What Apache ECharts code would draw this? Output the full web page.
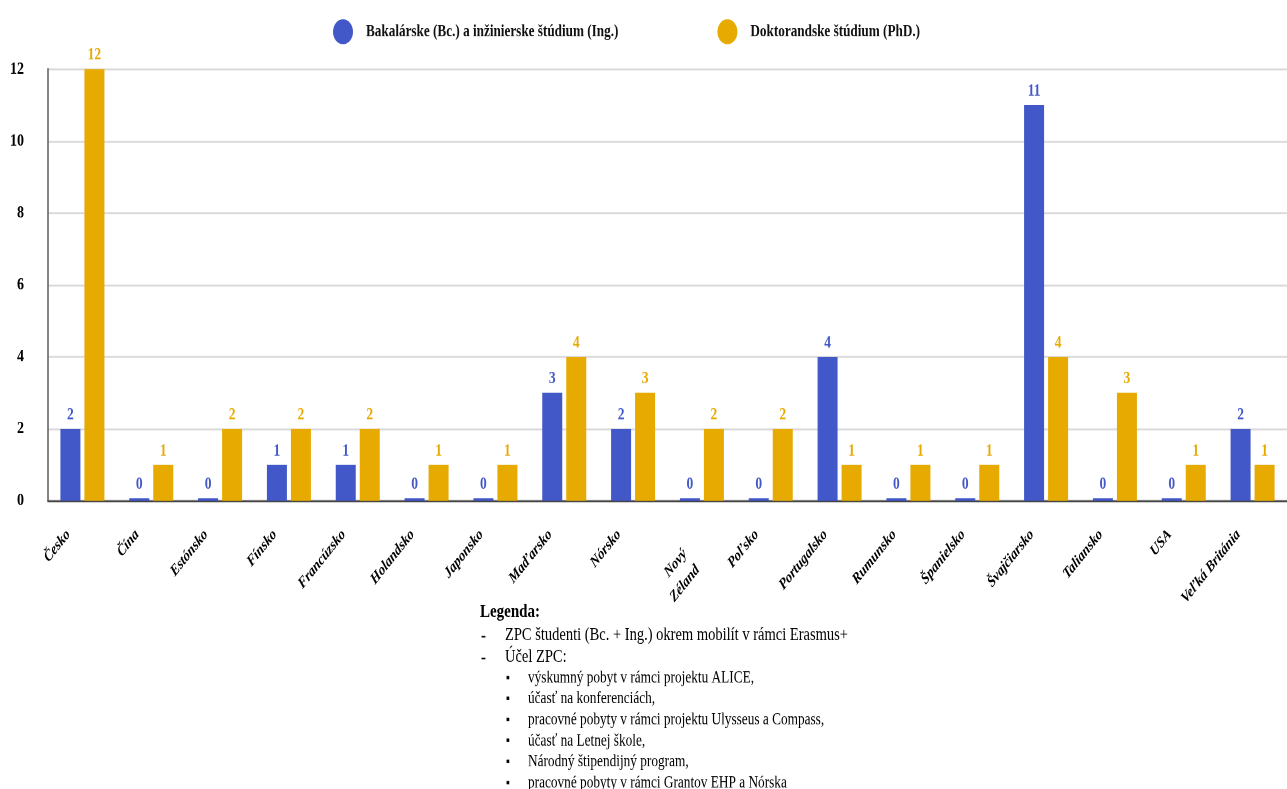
<!DOCTYPE html>
<html><head><meta charset="utf-8">
<script src="https://cdn.jsdelivr.net/npm/echarts@6/dist/echarts.min.js"></script>
<style>
html,body{margin:0;padding:0;background:#fff;overflow:hidden}
#wrap{width:1287px;height:789px;position:relative;overflow:hidden}
#c{width:1287px;height:631.2px;transform:scaleY(1.25);transform-origin:0 0;position:absolute;left:0;top:0}
</style>
</head><body><div id="wrap"><div id="c"></div></div>
<script>
const categories = ['Česko','Čína','Estónsko','Fínsko','Francúzsko','Holandsko','Japonsko','Maďarsko','Nórsko','Nový\nZéland','Poľsko','Portugalsko','Rumunsko','Španielsko','Švajčiarsko','Taliansko','USA','Veľká Británia'];
const bachelorValues = [2,0,0,1,1,0,0,3,2,0,0,4,0,0,11,0,0,2];
const phdValues = [12,1,2,2,2,1,1,4,3,2,2,1,1,1,4,3,1,1];
const seriesNames = ['Bakalárske (Bc.) a inžinierske štúdium (Ing.)','Doktorandske štúdium (PhD.)'];
const yMin = 0, yMax = 12, yInterval = 2;
const noteTitle = 'Legenda:';
const noteItems = ['ZPC študenti (Bc. + Ing.) okrem mobilít v rámci Erasmus+','Účel ZPC:'];
const purposeItems = ['výskumný pobyt v rámci projektu ALICE,','účasť na konferenciách,','pracovné pobyty v rámci projektu Ulysseus a Compass,','účasť na Letnej škole,','Národný štipendijný program,','pracovné pobyty v rámci Grantov EHP a Nórska'];

const S = 1.25; // vertical stretch of the reference rendering
const BLUE = '#4257c8', GOLD = '#e6aa00';
const FONT = '"Liberation Serif","Times New Roman",serif';

const graphics = [];
graphics.push({type:'text', x:480, y:612/S, style:{text:noteTitle, font:'bold 15px '+FONT, fill:'#000', verticalAlign:'middle'}});
noteItems.forEach((t,i)=>{
  const y = (635 + i*22)/S;
  graphics.push({type:'text', x:481, y:y+1, style:{text:'-', font:'bold 15px '+FONT, fill:'#000', verticalAlign:'middle'}});
  graphics.push({type:'text', x:505, y:y, style:{text:t, font:'14.5px '+FONT, fill:'#000', verticalAlign:'middle'}});
});
purposeItems.forEach((t,i)=>{
  const y = (678 + i*21)/S;
  graphics.push({type:'text', x:506, y:y, style:{text:'▪', font:'11px '+FONT, fill:'#000', verticalAlign:'middle'}});
  graphics.push({type:'text', x:528, y:y, style:{text:t, font:'13.3px '+FONT, fill:'#000', verticalAlign:'middle'}});
});

const xData = categories.map(c => c.indexOf('\n') >= 0
  ? {value:c, textStyle:{verticalAlign:'top', padding:[0,33,0,0]}}
  : c);

const chart = echarts.init(document.getElementById('c'), null, {devicePixelRatio:2});
chart.setOption({
  animation:false,
  backgroundColor:'#fff',
  legend:{
    top:10.4, left:328, itemGap:99, itemWidth:20, itemHeight:20,
    icon:'circle',
    textStyle:{fontFamily:FONT, fontWeight:'bold', fontSize:13.2, color:'#111', padding:[0,0,0,8]},
    data:seriesNames
  },
  grid:{left:48, right:-8, top:69/S, bottom:(789-501)/S, containLabel:false},
  xAxis:{
    type:'category', data:xData,
    axisLine:{lineStyle:{color:'#444', width:1.5}},
    axisTick:{show:false},
    axisLabel:{interval:0, rotate:45, margin:11, padding:[0,20,0,0], fontFamily:FONT, fontStyle:'italic', fontWeight:'bold', fontSize:12.5, color:'#000', lineHeight:18}
  },
  yAxis:{
    type:'value', min:yMin, max:yMax, interval:yInterval,
    axisLine:{show:true, lineStyle:{color:'#666', width:1.6}},
    axisTick:{show:false},
    splitLine:{lineStyle:{color:'#d9d9d9', width:1.4}},
    axisLabel:{margin:24, fontFamily:FONT, fontWeight:'bold', fontSize:14, color:'#000'}
  },
  series:[
    {name:seriesNames[0], type:'bar', data:bachelorValues, barWidth:20, barGap:'20%', barMinHeight:2,
     itemStyle:{color:BLUE},
     label:{show:true, position:'top', distance:4, color:BLUE, fontFamily:FONT, fontWeight:'bold', fontSize:13.5}},
    {name:seriesNames[1], type:'bar', data:phdValues, barWidth:20, barGap:'20%', barMinHeight:2,
     itemStyle:{color:GOLD},
     label:{show:true, position:'top', distance:4, color:GOLD, fontFamily:FONT, fontWeight:'bold', fontSize:13.5}}
  ],
  graphic:graphics
});
</script></body></html>
